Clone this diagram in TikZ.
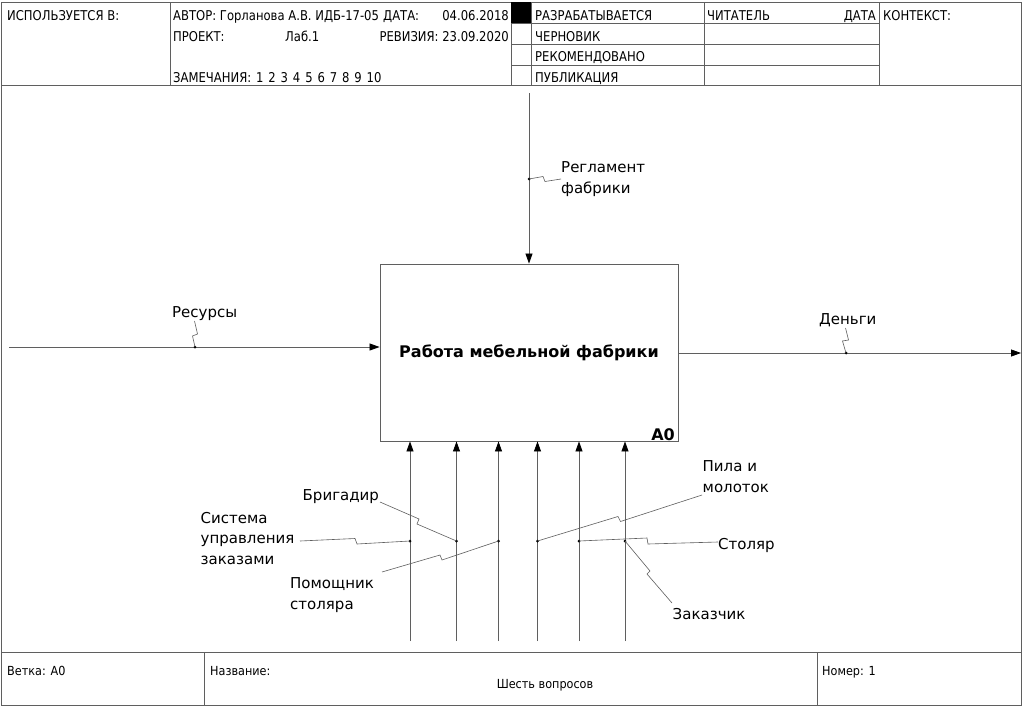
\documentclass[tikz,border=0pt]{standalone}
\usepackage{fontspec}
\setmainfont{DejaVu Sans}
\newfontfamily\hdrfont[FakeStretch=0.86]{DejaVu Sans}
\newfontfamily\footfont[FakeStretch=0.9]{DejaVu Sans}
\usetikzlibrary{arrows.meta}
\definecolor{ln}{RGB}{95,95,95}
\newcommand\gp{\hspace{4.9pt}}
\begin{document}
\begin{tikzpicture}[x=1pt,y=-1pt,
  frame/.style={draw=ln, line width=0.9pt},
  hdr/.style={font=\hdrfont\fontsize{13.5}{15}\selectfont, inner sep=0pt, anchor=base west},
  foot/.style={font=\footfont\fontsize{12.5}{14}\selectfont, inner sep=0pt, anchor=base west},
  lbl/.style={font=\fontsize{15}{20.5}\selectfont, inner sep=0pt, align=left, anchor=base west},
  arr/.style={draw=ln, line width=0.8pt, -{Triangle[length=10pt,width=7pt,color=black,fill=black]}},
  sq/.style={draw=ln, line width=0.6pt},
  dot/.style={circle, fill=black, inner sep=0pt, minimum size=3pt}]
\useasboundingbox (0,0) rectangle (1023,707);
\fill[white] (0,0) rectangle (1023,707);

% outer frame and bands
\draw[frame] (1,2) rectangle (1021,705);
\draw[frame] (1,85) -- (1021,85);
\draw[frame] (1,652) -- (1021,652);
% header grid
\draw[frame] (170,2) -- (170,85);
\draw[frame] (511,2) -- (511,85);
\draw[frame] (531,2) -- (531,85);
\draw[frame] (704,2) -- (704,85);
\draw[frame] (879,2) -- (879,85);
\draw[frame] (511,23) -- (879,23);
\draw[frame] (511,44) -- (879,44);
\draw[frame] (511,65) -- (879,65);
\fill[black] (511,2) rectangle (531,23);
% footer grid
\draw[frame] (204,652) -- (204,705);
\draw[frame] (817,652) -- (817,705);

% header texts
\node[hdr] (used) at (7,20) {ИСПОЛЬЗУЕТСЯ В:};
\node[hdr] (author) at (173,20) {АВТОР: Горланова А.В. ИДБ-17-05};
\node[hdr] (datelbl) at (383,20) {ДАТА:};
\node[hdr,anchor=base east] (dateval) at (509,20) {04.06.2018};
\node[hdr] (proj) at (173,41) {ПРОЕКТ:};
\node[hdr] (projval) at (285,41) {Лаб.1};
\node[hdr,anchor=base east] (rev) at (509,41) {РЕВИЗИЯ: 23.09.2020};
\node[hdr] (notes) at (173,82) {ЗАМЕЧАНИЯ:\gp 1\gp 2\gp 3\gp 4\gp 5\gp 6\gp 7\gp 8\gp 9\gp 10};
\node[hdr] (st1) at (535,20) {РАЗРАБАТЫВАЕТСЯ};
\node[hdr] (st2) at (535,41) {ЧЕРНОВИК};
\node[hdr] (st3) at (535,61.5) {РЕКОМЕНДОВАНО};
\node[hdr] (st4) at (535,82) {ПУБЛИКАЦИЯ};
\node[hdr] (reader) at (707,20) {ЧИТАТЕЛЬ};
\node[hdr,anchor=base east] (rdate) at (876,20) {ДАТА};
\node[hdr] (context) at (883,20) {КОНТЕКСТ:};

% footer texts
\node[foot] (branch) at (7,675) {Ветка: А0};
\node[foot] (namelbl) at (210,675) {Название:};
\node[foot,anchor=base] (title) at (545,688) {Шесть вопросов};
\node[foot] (number) at (822,675) {Номер: 1};

% activity box
\node[draw=ln, line width=0.9pt, minimum width=298pt, minimum height=177pt, inner sep=0pt,
      font=\bfseries\fontsize{16}{19}\selectfont] (box) at (529,352.5) {Работа мебельной фабрики};
\node[font=\bfseries\fontsize{16}{19}\selectfont, inner sep=0pt, anchor=base east] (boxid) at (675,440) {A0};

% control
\coordinate (ctrlsrc) at (529,93);
\draw[arr] (ctrlsrc) -- (box.north);
\node[dot] (dctrl) at (529,179) {};
\node[lbl] (ctrl) at (561,193) {Регламент\\фабрики};
\draw[sq] (dctrl.center) -- (543,176.5) -- (545,181.5) -- (561,179);

% input
\coordinate (insrc) at (9,347);
\draw[arr] (insrc) -- (insrc -| box.west);
\node[dot] (din) at (195,347) {};
\node[lbl] (inlbl) at (172,317) {Ресурсы};
\draw[sq] (din.center) -- (192.5,336) -- (197.5,334) -- (194.5,321);

% output
\coordinate (outend) at (1021,353);
\draw[arr] (outend -| box.east) -- (outend);
\node[dot] (dout) at (846,353) {};
\node[lbl] (outlbl) at (819,324) {Деньги};
\draw[sq] (dout.center) -- (842.5,341) -- (848.5,340) -- (845.5,328);

% mechanisms
\foreach \n/\x in {1/410,2/456.5,3/498.5,4/537.5,5/579,6/625}{
  \coordinate (m\n) at (\x,641);
  \draw[arr] (m\n) -- (m\n |- box.south);
  \node[dot] (dm\n) at (\x,541) {};
}
\node[lbl] (sys) at (200.5,564) {Система\\управления\\заказами};
\draw[sq] (300,541) -- (355,538.5) -- (357,544) -- (dm1.center);
\node[lbl] (brig) at (302.5,500) {Бригадир};
\draw[sq] (380,502) -- (419,519) -- (417,524) -- (dm2.center);
\node[lbl] (help) at (290,609) {Помощник\\столяра};
\draw[sq] (382,572) -- (440,555) -- (442,560) -- (dm3.center);
\node[lbl] (saw) at (702.5,492) {Пила и\\молоток};
\draw[sq] (dm4.center) -- (618,516.5) -- (620.5,521.5) -- (702,495);
\node[lbl] (joiner) at (718,549.5) {Столяр};
\draw[sq] (dm5.center) -- (647,538) -- (648,544) -- (718,542);
\node[lbl] (client) at (672.5,619.5) {Заказчик};
\draw[sq] (dm6.center) -- (650,571) -- (647,574) -- (672,603);
\end{tikzpicture}
\end{document}
